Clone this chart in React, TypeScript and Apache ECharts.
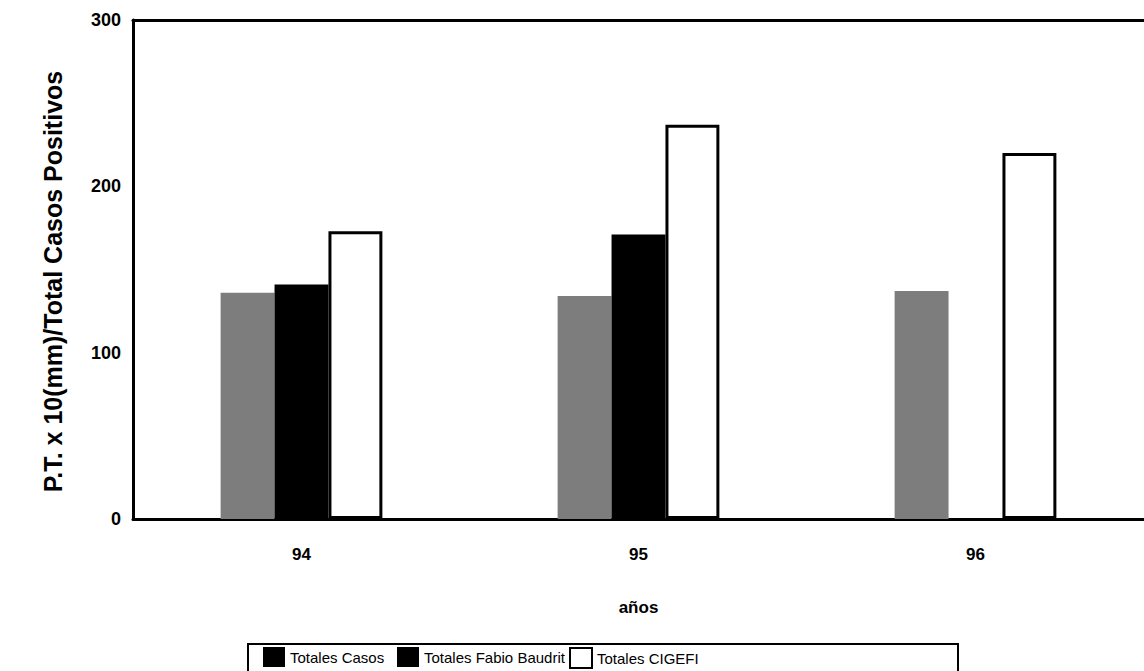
import React, { useEffect, useRef } from "react";
import * as echarts from "echarts";

const categories = ["94", "95", "96"];
const totalesCasos = [136, 134, 137];
const totalesFabio: (number | null)[] = [141, 171, null];
const totalesCigefi = [173, 237, 220];
const yTicks = [0, 100, 200, 300];

const FONT = "'Liberation Sans', Arial, sans-serif";

export default function App() {
  const ref = useRef<HTMLDivElement>(null);
  useEffect(() => {
    document.body.style.margin = "0";
    const chart = echarts.init(ref.current!, null, { renderer: "svg" });
    const legendText = { fontFamily: FONT, fontSize: 15, color: "#000" };
    const legendBase = {
      top: 647,
      itemWidth: 22,
      itemHeight: 20,
      itemGap: 6,
      icon: "rect",
      padding: 0,
      textStyle: legendText,
    };
    chart.setOption({
      animation: false,
      backgroundColor: "#ffffff",
      grid: { left: 133, right: 0, top: 20, bottom: 152 },
      legend: [
        {
          ...legendBase,
          left: 263,
          data: [{ name: "Totales Casos", itemStyle: { color: "#000", borderWidth: 0 } }],
        },
        {
          ...legendBase,
          left: 397,
          data: [{ name: "Totales Fabio Baudrit", itemStyle: { color: "#000", borderWidth: 0 } }],
        },
        {
          ...legendBase,
          left: 569,
          data: [{ name: "Totales CIGEFI", itemStyle: { color: "#fff", borderColor: "#000", borderWidth: 2 } }],
        },
      ],
      graphic: [
        {
          type: "rect",
          shape: { x: 248, y: 644, width: 710, height: 28 },
          style: { fill: "none", stroke: "#000", lineWidth: 2 },
          z: 0,
        },
      ],
      xAxis: [
        {
          type: "category",
          data: categories,
          name: "años",
          nameLocation: "middle",
          nameGap: 80,
          nameTextStyle: { fontFamily: FONT, fontSize: 17, fontWeight: "bold", color: "#000" },
          axisLine: { lineStyle: { color: "#000", width: 3 } },
          axisTick: { show: false },
          axisLabel: { fontFamily: FONT, fontSize: 17, fontWeight: "bold", color: "#000", margin: 27 },
        },
        {
          type: "category",
          data: categories,
          position: "top",
          axisLine: { lineStyle: { color: "#000", width: 3 } },
          axisTick: { show: false },
          axisLabel: { show: false },
        },
      ],
      yAxis: {
        type: "value",
        min: 0,
        max: 300,
        interval: 100,
        name: "P.T. x 10(mm)/Total Casos Positivos",
        nameLocation: "middle",
        nameGap: 68,
        nameTextStyle: { fontFamily: FONT, fontSize: 25, fontWeight: "bold", color: "#000", padding: [0, 24, 0, 0] },
        axisLine: { show: true, lineStyle: { color: "#000", width: 3 } },
        axisTick: { show: false },
        splitLine: { show: false },
        axisLabel: {
          fontFamily: FONT,
          fontSize: 18,
          fontWeight: "bold",
          color: "#000",
          margin: 12,
          formatter: (v: number) => (yTicks.includes(v) ? String(v) : ""),
        },
      },
      series: [
        {
          name: "Totales Casos",
          type: "bar",
          data: totalesCasos,
          barGap: "0%",
          barCategoryGap: "52%",
          itemStyle: { color: "#7d7d7d" },
        },
        {
          name: "Totales Fabio Baudrit",
          type: "bar",
          data: totalesFabio,
          itemStyle: { color: "#000" },
        },
        {
          name: "Totales CIGEFI",
          type: "bar",
          data: totalesCigefi,
          itemStyle: { color: "#fff", borderColor: "#000", borderWidth: 3 },
        },
      ],
    });
    return () => chart.dispose();
  }, []);
  return <div ref={ref} style={{ width: 1144, height: 671 }} />;
}
